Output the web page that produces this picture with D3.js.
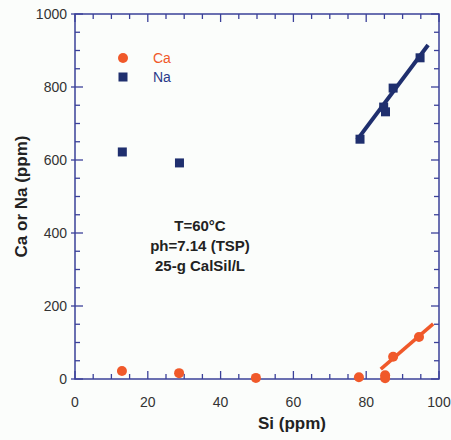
<!DOCTYPE html>
<html>
<head>
<meta charset="utf-8">
<script src="https://cdn.jsdelivr.net/npm/d3@7"></script>
<style>
  body { margin: 0; background: #fbfdfb; }
  svg { display: block; font-family: "Liberation Sans", Arial, sans-serif; }
</style>
</head>
<body>
<div id="chart"></div>
<script>
// data
const caSi = [12.9, 28.6, 49.7, 78.0, 85.2, 85.2, 87.4, 94.5];
const caPpm = [22, 16, 3, 5, 10, 2, 61, 115];
const naSi = [13.0, 28.7, 78.3, 84.8, 85.3, 87.4, 94.8];
const naPpm = [622, 592, 657, 745, 732, 797, 880];
const caFitSi = [84, 98.4];
const caFitPpm = [27, 151];
const naFitSi = [77.5, 97];
const naFitPpm = [655, 915];
const xTicks = [0, 20, 40, 60, 80, 100];
const yTicks = [0, 200, 400, 600, 800, 1000];
const notes = ["T=60°C", "ph=7.14 (TSP)", "25-g CalSil/L"];

const W = 451, H = 440;
const margin = { top: 14, right: 12, bottom: 61, left: 75 };
const axisColor = "#3b4199";
const caColor = "#f0592a";
const naColor = "#1f2f6e";

const svg = d3.select("#chart").append("svg")
    .attr("width", W)
    .attr("height", H);

const x = d3.scaleLinear().domain([0, 100]).range([margin.left, W - margin.right]);
const y = d3.scaleLinear().domain([0, 1000]).range([H - margin.bottom, margin.top]);

// minor + major ticks on all four sides, pointing inward
const xMinor = d3.range(0, 101, 5);
const yMinor = d3.range(0, 1001, 50);

const ticks = svg.append("g").attr("stroke", axisColor).attr("stroke-width", 1.3);
xMinor.forEach(v => {
    const len = v % 20 === 0 ? 8 : 5;
    ticks.append("line").attr("x1", x(v)).attr("x2", x(v))
        .attr("y1", y(0)).attr("y2", y(0) - len);
    ticks.append("line").attr("x1", x(v)).attr("x2", x(v))
        .attr("y1", y(1000)).attr("y2", y(1000) + len);
});
yMinor.forEach(v => {
    const major = v % 200 === 0;
    const len = major ? 8 : 5;
    ticks.append("line").attr("y1", y(v)).attr("y2", y(v))
        .attr("x1", x(0) - (major ? 4 : 0)).attr("x2", x(0) + len);
    ticks.append("line").attr("y1", y(v)).attr("y2", y(v))
        .attr("x1", x(100)).attr("x2", x(100) - len);
});

// frame
svg.append("rect")
    .attr("x", x(0)).attr("y", y(1000))
    .attr("width", x(100) - x(0)).attr("height", y(0) - y(1000))
    .attr("fill", "none")
    .attr("stroke", axisColor)
    .attr("stroke-width", 1.5);

// tick labels
svg.append("g").selectAll("text")
    .data(xTicks)
    .enter()
    .append("text")
    .attr("x", d => x(d))
    .attr("y", y(0) + 28)
    .attr("text-anchor", "middle")
    .attr("fill", "#333")
    .style("font-size", "14px")
    .text(d => d);

svg.append("g").selectAll("text")
    .data(yTicks)
    .enter()
    .append("text")
    .attr("x", x(0) - 8)
    .attr("y", d => y(d))
    .attr("dy", "0.35em")
    .attr("text-anchor", "end")
    .attr("fill", "#333")
    .style("font-size", "14px")
    .text(d => d);

// axis titles
svg.append("text")
    .attr("x", 292)
    .attr("y", H - 11)
    .attr("text-anchor", "middle")
    .attr("fill", "#222")
    .style("font-size", "17px")
    .style("font-weight", "bold")
    .text("Si (ppm)");

svg.append("text")
    .attr("transform", `translate(27,${(y(0) + y(1000)) / 2}) rotate(-90)`)
    .attr("text-anchor", "middle")
    .attr("fill", "#222")
    .style("font-size", "17px")
    .style("font-weight", "bold")
    .text("Ca or Na (ppm)");

// fit lines
const line = d3.line().x(d => x(d[0])).y(d => y(d[1]));
svg.append("path")
    .datum(d3.zip(naFitSi, naFitPpm))
    .attr("d", line)
    .attr("stroke", naColor)
    .attr("stroke-width", 4)
    .attr("fill", "none");
svg.append("path")
    .datum(d3.zip(caFitSi, caFitPpm))
    .attr("d", line)
    .attr("stroke", caColor)
    .attr("stroke-width", 3.5)
    .attr("fill", "none");

// points
const sq = 9;
svg.append("g").selectAll("rect")
    .data(d3.zip(naSi, naPpm))
    .enter()
    .append("rect")
    .attr("x", d => x(d[0]) - sq / 2)
    .attr("y", d => y(d[1]) - sq / 2)
    .attr("width", sq)
    .attr("height", sq)
    .attr("fill", naColor);

svg.append("g").selectAll("circle")
    .data(d3.zip(caSi, caPpm))
    .enter()
    .append("circle")
    .attr("cx", d => x(d[0]))
    .attr("cy", d => y(d[1]))
    .attr("r", 5)
    .attr("fill", caColor);

// legend
const legend = svg.append("g");
legend.append("circle").attr("cx", 123).attr("cy", 58).attr("r", 5).attr("fill", caColor);
legend.append("text").attr("x", 153).attr("y", 58).attr("dy", "0.35em")
    .attr("fill", caColor).style("font-size", "14px").text("Ca");
legend.append("rect").attr("x", 123 - sq / 2).attr("y", 77 - sq / 2)
    .attr("width", sq).attr("height", sq).attr("fill", naColor);
legend.append("text").attr("x", 153).attr("y", 77).attr("dy", "0.35em")
    .attr("fill", "#2a3a8a").style("font-size", "14px").text("Na");

// conditions note
svg.append("g").selectAll("text")
    .data(notes)
    .enter()
    .append("text")
    .attr("x", 200)
    .attr("y", (d, i) => 226 + i * 20)
    .attr("dy", "0.35em")
    .attr("text-anchor", "middle")
    .attr("fill", "#222")
    .style("font-size", "15px")
    .style("font-weight", "bold")
    .text(d => d);
</script>
</body>
</html>
